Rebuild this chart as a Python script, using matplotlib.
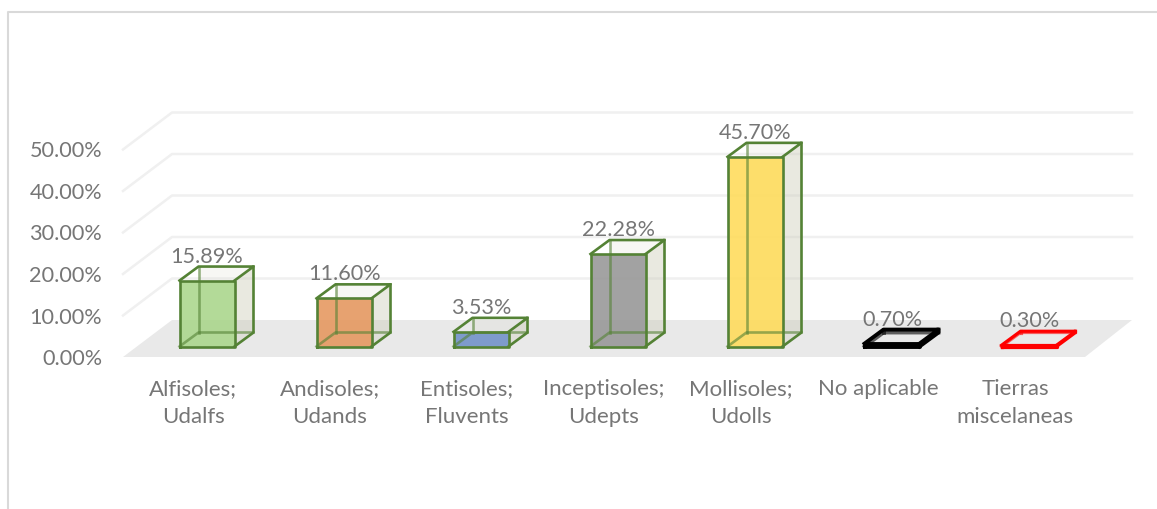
import matplotlib
matplotlib.use('Agg')
import matplotlib.pyplot as plt
from matplotlib.lines import Line2D
from matplotlib.patches import Polygon

categories = ["Alfisoles;\nUdalfs", "Andisoles;\nUdands", "Entisoles;\nFluvents", "Inceptisoles;\nUdepts",
              "Mollisoles;\nUdolls", "No aplicable", "Tierras\nmiscelaneas"]
values = [15.89, 11.60, 3.53, 22.28, 45.70, 0.70, 0.30]
y_ticks = [0, 10, 20, 30, 40, 50]

face_colors = ['#a9d68a', '#e5965c', '#6e90c8', '#969696', '#ffdb57', '#c4c4c4', '#f6c4c4']
edge_colors = ['#548235', '#548235', '#548235', '#548235', '#548235', '#000000', '#ff0000']
edge_widths = [1.9, 1.9, 1.9, 1.9, 1.9, 2.8, 2.3]

plt.rcParams['font.family'] = ['Lato', 'DejaVu Sans']
TEXT = '#767676'
FONT_SIZE = 15.6

# scale of the picture: 137 px per category, 4.15 px per percent
px_x = 1 / 137
px_y = 1 / 4.15
dx = 19 * px_x
dy = 14 * px_y
half = 27.5 * px_x
front0 = -10.5 * px_y   # front edge of the floor
back0 = 26.5 * px_y     # back edge of the floor
left_front, left_back = -84 * px_x, -35 * px_x
right_front, right_back = 878 * px_x, 925 * px_x

fig = plt.figure(figsize=(11.57, 5.09), dpi=100)
ax = fig.add_axes([123 / 1157, (509 - 357) / 509, (1132 - 123) / 1157, (357 - 113) / 509])
ax.set_xlim(left_front, right_back)
ax.set_ylim(front0, 233.5 * px_y)
ax.patch.set_visible(False)
for s in ax.spines.values():
    s.set_visible(False)

# chart frame, open on the right
fig.add_artist(Line2D([8 / 1157, 8 / 1157, 1], [0, 497 / 509, 497 / 509], color='#d9d9d9', lw=1.5))

# floor and gridlines
ax.add_patch(Polygon([(left_front, front0), (right_front, front0), (right_back, back0), (left_back, back0)],
                     facecolor='#e9e9e9', edgecolor='none', zorder=1))
for v in y_ticks[1:]:
    ax.plot([left_front, left_back, right_back], [v + front0, v + back0, v + back0],
            color='#f0f0f0', lw=1.8, zorder=1, clip_on=False)

# bars: back faces, the see-through front with hidden edges over it, then the outer wire
for i, v in enumerate(values):
    l, r = i - half, i + half
    c, e, w = face_colors[i], edge_colors[i], edge_widths[i]
    ax.add_patch(Polygon([(l + dx, dy), (r + dx, dy), (r + dx, v + dy), (l + dx, v + dy)],
                         facecolor='#d9d9cc', alpha=0.2, edgecolor='none', zorder=2))
    ax.add_patch(Polygon([(r, 0), (r + dx, dy), (r + dx, v + dy), (r, v)],
                         facecolor='#c9c9b4', alpha=0.3, edgecolor='none', zorder=2))
    ax.add_patch(Polygon([(l, 0), (r, 0), (r, v), (l, v)],
                         facecolor=c, alpha=0.87, edgecolor='none', zorder=3))
    ax.plot([l + dx, l + dx], [dy, v + dy], color=e, lw=w, alpha=0.6, zorder=4)
    ax.plot([l, l + dx, r + dx], [0, dy, dy], color=e, lw=w, alpha=0.6, zorder=4)
    ax.plot([l, r, r, l, l], [0, 0, v, v, 0], color=e, lw=w, zorder=5, solid_joinstyle='round', clip_on=False)
    ax.plot([l, l + dx, r + dx, r], [v, v + dy, v + dy, v], color=e, lw=w, zorder=5,
            solid_joinstyle='round', clip_on=False)
    ax.plot([r + dx, r + dx, r], [v + dy, dy, 0], color=e, lw=w, zorder=5, solid_joinstyle='round')
    ax.text(i, v + dy + 4 * px_y, f'{v:.2f}%', ha='center', va='baseline', color=TEXT, fontsize=FONT_SIZE, zorder=6)

ax.set_yticks([v + front0 for v in y_ticks])
ax.set_yticklabels([f'{v:.2f}%' for v in y_ticks], va='center_baseline')
ax.set_xticks([i - 14 * px_x for i in range(len(categories))])
ax.set_xticklabels(categories, linespacing=1.5)
ax.tick_params(axis='y', length=0, pad=15, labelsize=FONT_SIZE, labelcolor=TEXT)
ax.tick_params(axis='x', length=0, pad=16, labelsize=FONT_SIZE + 0.4, labelcolor=TEXT)

fig.savefig('out.png', dpi=100)
